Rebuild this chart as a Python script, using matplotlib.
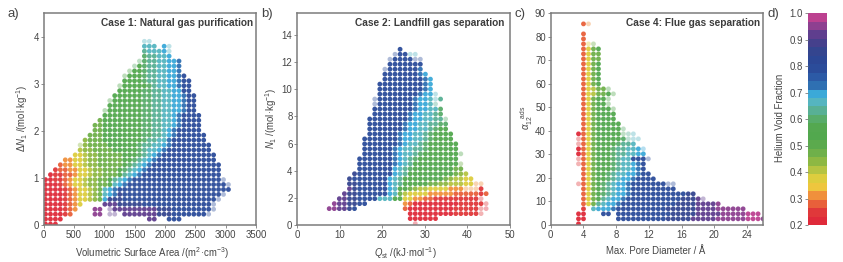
import re
import numpy as np
import matplotlib
matplotlib.use("Agg")
import matplotlib.pyplot as plt
from matplotlib.colors import ListedColormap, BoundaryNorm

plt.rcParams['font.family'] = ['Liberation Sans', 'DejaVu Sans']
plt.rcParams['mathtext.fontset'] = 'custom'
plt.rcParams['mathtext.rm'] = 'Liberation Sans'
plt.rcParams['mathtext.it'] = 'Liberation Sans:italic'
plt.rcParams['mathtext.bf'] = 'Liberation Sans:bold'

# Colour scale: 25 steps of helium void fraction
scale_colors = ['#DF2A3A', '#E0383A', '#E8603A', '#F0903C', '#EEC63E', '#DDCD3E', '#B5C442',
                '#8DB843', '#6FB04A', '#5BAA4D', '#52A84E', '#54A850', '#58AC6A', '#58B095',
                '#55B5C0', '#3BA9D8', '#2F70B2', '#2C5AA6', '#2B4C9A', '#2C4795', '#34458F',
                '#45408C', '#5F3E8E', '#8D4090', '#BC4190']
void_of_code = dict(a=.21, b=.24, c=.28, d=.31, e=.36, f=.40, g=.44, h=.48, i=.53, j=.59,
                    k=.63, l=.66, m=.69, n=.72, o=.78, p=.80, q=.87, r=.91, s=.94, t=.97)

# Each map: rows from the top; letter = void-fraction class, upper case = faint point,
# number = how many neighbouring grid cells, _ = empty cells.
case1_rows = [
    "_20L2", "_20l3_1m1L1", "_20k1l3m1L1", "_20j1k2l2m1", "_19J1j1k2l2m2n1",
    "_18J1i1j1k2l2m2n1", "_17I1i2j1k2l2m2n1", "_16I1i3j1k2l2m2n1o1", "_16i4j1k2l2m2n1o2",
    "_15I1i5j1k1l2m2n1o2", "_15i5j2k2l2m2o2", "_14i6j2k2l2m2n1o2", "_13I1i6j2k2l2m2n1o2",
    "_13i7j2k2l2m2n1o2", "_12I1i7j2k2l2m2n1o2", "_12i8j2k2l2m1n1o4", "_11h1i8j2k2l2m1n1o4",
    "_10h2i8j2k2l2m1n1o4", "_10h2i8j2k2l1m1n1o5", "_9h3i8j2k2l1m1n1o6", "_8g1h3i8j1k2l2n1o7",
    "_7G1g1h4i6j1k2l2m1n1o8", "_7f1g2h4i5j1k1l2m1n1o9", "_6e2f1g2h5i3j1k1l1m1n1o11",
    "_4d2e2f1g2h5i2j1k1l1m1n1o12", "_3c1d2e2f1g2h5i1j1k1l1m1n1o14", "_2b1c2d2e2f1g2h3i1j1k1l1m1n1o15",
    "_1a1b2c2d1e2f1g2h3i1k1l1m1n1o16", "a2b2c1d1e2f1g2h2i1k1l1m1n1o18O1", "a3b1c1d1e2f1g2h2i1l1m1n1o20O1",
    "a4b1c1d1e2f1g1h1l1m1n1o23", "a4b1c1d1e2f1g1h1l1m1n1q1o20O1", "a4b1c1d1e2f1g1h1m1q3o19O1",
    "a4b1c1d1e1_4r3q5o14O1", "a4b1c1d1_3s2_1R1r9q3o8O1", "a4b1c1_4s2_1R2_1r7q3o7O1",
    "a4_17r2_2p3", "a3",
]
case2_rows = [
    "_14o1", "_13O1o2L2", "_12O1o4O2", "_12o7", "_11O1o6n1", "_11o7n1m1", "_11o8n1m1",
    "_10o9n1m1", "_10o9n1m1", "_10o8n1m2L1", "_9O1o7n1m2l1L1k1", "_9O1o7n1m2l1K1", "_9o8n1m2l2j1",
    "_9o7n1m2l2k1j1", "_8o8n1m2l2k2J1", "_8o7n1m2l2k2j2", "_8o7n1m2l2k1j1i2", "_8o6n1m2l2k1j1i4",
    "_7o7n1m2l2k1j1i4", "_7o7n1m1l2k1j1i6", "_7o6n1m1l2k2j1i6", "_7o6n1m1l2k1j1i7I1",
    "_6o7n1m1l1k1j1i8", "_6o7n1m1l1k1i9H1", "_6o7m1l1k1j1i8h2", "_5q1o7m1l1k1i9h1g1f1",
    "_4q1o7m1l1k1i8h1g1f2e2", "_4q2o6m1l1k1i5h2g2f3e2D2", "_4r1q1o6m1l1i2h1g1f2e4d3D3b1",
    "_3r1q2o6m1l1h1f1e4d5c5b1c1", "_2r2q2o4l3i2e2d2c2b9B1", "_1s1r2q2o2_7d1c1a9b4b1B1",
    "s2r2q1o1_9c1a9b5B1A1", "_16a9b5B1", "_16a6", "_17A1",
]
case4_rows = [
    "_1c1D1", "", "_1c1", "_1c1", "_1c1E1H1", "_1c1e1h1i1", "_1c1e1h2", "_1c1e1h2",
    "_1c1e1h1i1", "_1c1e1h1i1", "_1c1e1h1i1", "_1c1e1h1i1", "_1c1e1h1i1", "_1c1e1f1h2I1",
    "_1c1e1f1h2i1I1", "_1c1e1h1i2I1", "_1c1e1h1i2I1", "_1c1e1h1i3I1", "_1c1e1h1i4", "_1c1e1h1i4",
    "_1c1e1h1i5", "_1c1e1h1i5J1", "a1c1e1h1i5J1K1L1", "B1c1e1h1i5j1K1L2", "B1c1e1h1i4j1k2l1",
    "a1c1e1h1i3j1k2l2m1M1", "a1c1e1h1i3j1k2l2m2", "B1c1e1h1i3j1k1l2o3O1", "B1c1e1h1i3j1k1l2m1n1o1",
    "_1c1e1h1i3j1k1l2m1n1o1", "_1c1e1h1i2j1k1l2m2n1o2", "_1c1e1h1i2j1k1l1m2n1o4",
    "B1c1e1h1i1j1k1l1m2n1o7O2", "_1c1e1h1i1j1k1l1m2n1o9", "_1c1e1h1i1j1k1l1m2n1o11q2",
    "_1c1e1h1i1k1l1m2n1o11q3r1R1", "_1c1e1h1k1l1m2n1o11q4r4s1", "_1b1_1l1m3n1o10q6r4s6",
    "a2_3o2_1o11q5r5s5t3", "a2_6o10q5r5s6t3s1", "_0a1",
]

titles = ["Case 1: Natural gas purification", "Case 2: Landfill gas separation", "Case 4: Flue gas separation"]
panel_letters = ["a)", "b)", "c)", "d)"]
case1_xticks = [0, 500, 1000, 1500, 2000, 2500, 3000, 3500]
case1_yticks = [0, 1, 2, 3, 4]
case2_xticks = [0, 10, 20, 30, 40, 50]
case2_yticks = [0, 2, 4, 6, 8, 10, 12, 14]
case4_xticks = [0, 4, 8, 12, 16, 20, 24]
case4_yticks = [0, 10, 20, 30, 40, 50, 60, 70, 80, 90]
bar_ticks = [0.2, 0.3, 0.4, 0.5, 0.6, 0.7, 0.8, 0.9, 1.0]

W, H = 843, 262
GRAY = '#7c7c7c'
TXT = '#454545'
cmap = ListedColormap(scale_colors)
norm = BoundaryNorm(np.linspace(0.2, 1.0, 26), 25)


def decode(rows, x0, dx, y_top_row, dy):
    xs, ys, vs, faint = [], [], [], []
    for i, row in enumerate(rows):
        c = 0
        y = y_top_row - i * dy
        for code, n in re.findall(r'([A-Za-z_])(\d+)', row):
            n = int(n)
            if code != '_':
                for k in range(n):
                    xs.append(x0 + (c + k) * dx)
                    ys.append(y)
                    vs.append(void_of_code[code.lower()])
                    faint.append(code.isupper())
            c += n
    return map(np.array, (xs, ys, vs, faint))


def panel(box, rows, grid, xlim, ylim, xticks, yticks, title, title_right):
    l, t, r, b = box
    ax = fig.add_axes([l / W, 1 - b / H, (r - l) / W, (b - t) / H])
    xs, ys, vs, faint = decode(rows, *grid)
    ax.scatter(xs[faint], ys[faint], c=vs[faint], cmap=cmap, norm=norm, s=12, alpha=.38, linewidths=0)
    ax.scatter(xs[~faint], ys[~faint], c=vs[~faint], cmap=cmap, norm=norm, s=12, alpha=.95, linewidths=0)
    ax.set_xlim(xlim)
    ax.set_ylim(ylim)
    ax.set_xticks(xticks)
    ax.set_yticks(yticks)
    ax.tick_params(length=2, width=.6, color=GRAY, labelsize=6.9, labelcolor=TXT, pad=1.5)
    for s in ax.spines.values():
        s.set_color(GRAY)
        s.set_linewidth(1.1)
    fig.text(title_right / W, 1 - 23 / H, title, ha='right', va='center', fontsize=7.3,
             fontweight='bold', color='#3c3c3c')
    return ax


def label(px, py, s, rot=0, size=6.9):
    fig.text(px / W, 1 - py / H, s, ha='center', va='center', rotation=rot, fontsize=size, color=TXT)


fig = plt.figure(figsize=(W / 100, H / 100), dpi=100)

panel((43.7, 13.3, 256, 225), case1_rows, (30, 81.5, 37 * .105 + .02, .105), (0, 3500), (0, 4.5),
      case1_xticks, case1_yticks, titles[0], 253)
panel((297.3, 13.3, 510, 225), case2_rows, (7.5, 1.19, 12.95, .367), (0, 50), (0, 15.6),
      case2_xticks, case2_yticks, titles[1], 504)
panel((550.7, 13.3, 763.3, 225), case4_rows, (3.4, .61, 85.5, 2.125), (0, 26), (0, 90),
      case4_xticks, case4_yticks, titles[2], 760.5)

cax = fig.add_axes([807.7 / W, 1 - 225 / H, 19 / W, 211.7 / H])
cax.pcolormesh([0, 1], np.linspace(0.2, 1.0, 26), np.arange(25).reshape(-1, 1),
               cmap=cmap, vmin=-.5, vmax=24.5)
cax.set_xticks([])
cax.set_yticks(bar_ticks)
cax.set_yticklabels([f"{v:.1f}" for v in bar_ticks])
cax.tick_params(length=2, width=.6, color=GRAY, labelsize=6.9, labelcolor=TXT, pad=1.5)
for s in cax.spines.values():
    s.set_visible(False)

label(152, 253, r'Volumetric Surface Area /(m$^{2}$·cm$^{-3}$)')
label(22.5, 118, r'$\Delta N_1$ /(mol·kg$^{-1}$)', 90)
label(405, 253, r'$Q_{\mathrm{st}}$ /(kJ·mol$^{-1}$)')
label(271, 118, r'$N_1$ /(mol·kg$^{-1}$)', 90)
label(656, 251, 'Max. Pore Diameter / Å')
label(527, 118, r'$\alpha_{12}^{\ \ \ \mathrm{ads}}$', 90)
label(780, 118, 'Helium Void Fraction', 90)

for x, s in zip([13, 267, 520, 773], panel_letters):
    label(x, 14, s, size=9.5)

fig.savefig('out.png', dpi=100)
